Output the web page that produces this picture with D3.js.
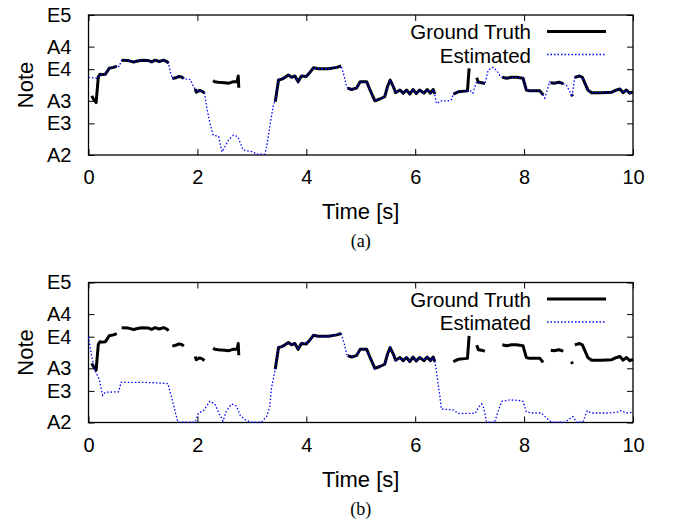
<!DOCTYPE html>
<html>
<head>
<meta charset="utf-8">
<script src="https://cdn.jsdelivr.net/npm/d3@7"></script>
<style>
  body { margin: 0; background: #fff; }
  text { font-family: "Liberation Sans", Arial, Helvetica, sans-serif; fill: #000; }
</style>
</head>
<body>
<script>
// note ticks (MIDI numbers) and their names
var noteTicks = [45, 52, 57, 64, 69, 76];
var noteNames = ["A2", "E3", "A3", "E4", "A4", "E5"];
var timeTicks = [0, 2, 4, 6, 8, 10];

// ground truth pitch [time s, MIDI note], null = unvoiced gap
var groundTruth = [
  [0.06,58.1],[0.10,57.2],[0.14,56.6],[0.18,62.3],[0.21,62.9],[0.26,62.8],[0.31,62.9],[0.36,63.8],[0.38,64.2],[0.46,64.4],[0.52,64.7],null,
  [0.61,66.0],[0.73,65.9],[0.83,65.6],[0.90,65.8],[0.98,66.0],[1.10,65.9],[1.16,65.6],[1.22,66.0],[1.30,65.7],[1.38,66.0],[1.44,65.7],[1.47,65.3],null,
  [1.54,61.9],[1.60,62.1],[1.66,62.4],[1.71,62.3],[1.75,61.9],null,
  [1.96,59.6],[1.98,58.9],[2.04,59.3],[2.09,59.1],[2.13,58.7],null,
  [2.29,61.5],[2.32,61.2],[2.38,61.1],[2.50,61.0],[2.58,60.9],[2.65,61.2],[2.73,61.3],[2.75,62.5],[2.76,59.9],null,
  [3.43,56.8],[3.49,61.6],[3.55,61.8],[3.61,62.2],[3.67,62.7],[3.73,62.2],[3.79,62.5],[3.85,61.2],[3.91,62.5],[4.00,62.4],[4.06,63.2],[4.13,64.3],[4.22,64.1],[4.41,64.1],[4.56,64.4],[4.64,64.7],null,
  [4.76,59.8],[4.83,59.5],[4.92,59.8],[4.99,61.2],[5.11,61.2],[5.17,59.4],[5.26,57.0],[5.35,57.4],[5.44,57.9],[5.49,60.1],[5.54,61.6],[5.60,60.1],[5.64,58.8],[5.72,59.4],[5.78,58.7],[5.84,59.4],[5.90,58.5],[5.96,59.5],[6.02,58.6],[6.08,59.4],[6.16,58.7],[6.22,59.5],[6.28,58.7],[6.33,59.5],[6.36,58.5],null,
  [6.70,58.5],[6.79,59.0],[6.96,59.2],[6.99,64.2],null,
  [7.13,62.1],[7.16,61.1],[7.22,61.0],[7.28,60.8],null,
  [7.60,62.2],[7.68,62.0],[7.77,62.2],[7.86,62.2],[7.98,62.0],[8.04,59.4],[8.10,59.2],[8.29,59.2],[8.35,58.3],null,
  [8.49,61.0],[8.55,60.9],[8.64,61.1],[8.72,60.8],null,
  [8.87,58.5],[8.89,58.0],null,
  [8.93,62.2],[9.02,62.5],[9.07,62.2],[9.17,59.4],[9.24,58.8],[9.42,58.8],[9.61,58.9],[9.70,59.4],[9.76,59.6],[9.82,58.8],[9.88,59.4],[9.94,58.7],[10.0,59.0]
];

// estimated pitch, panel (a)
var estimatedA = [
  [0,62.2],[0.08,62.1],[0.15,62.0],[0.18,62.3],[0.21,62.9],[0.26,62.8],[0.31,62.9],[0.36,63.8],[0.38,64.2],[0.46,64.4],[0.52,64.7],[0.56,64.6],
  [0.61,66.0],[0.73,65.9],[0.83,65.6],[0.90,65.8],[0.98,66.0],[1.10,65.9],[1.16,65.6],[1.22,66.0],[1.30,65.7],[1.38,66.0],[1.44,65.7],[1.47,65.3],[1.50,63.5],
  [1.54,61.9],[1.60,62.1],[1.66,62.4],[1.71,62.3],[1.75,61.9],[1.80,61.8],[1.87,61.7],[1.93,60.1],
  [1.96,59.6],[1.98,58.9],[2.04,59.3],[2.09,59.1],[2.13,58.7],[2.17,55.7],[2.23,52.0],[2.29,49.4],[2.39,49.1],[2.45,45.7],[2.57,48.3],[2.66,49.4],[2.74,49.1],[2.84,46.1],[3.02,45.7],[3.08,45.2],[3.24,45.2],[3.27,46.8],[3.33,51.3],[3.40,56.4],
  [3.43,56.8],[3.49,61.6],[3.55,61.8],[3.61,62.2],[3.67,62.7],[3.73,62.2],[3.79,62.5],[3.85,61.2],[3.91,62.5],[4.00,62.4],[4.06,63.2],[4.13,64.3],[4.22,64.1],[4.41,64.1],[4.56,64.4],[4.64,64.7],[4.70,62.3],[4.74,60.1],
  [4.76,59.8],[4.83,59.5],[4.92,59.8],[4.99,61.2],[5.11,61.2],[5.17,59.4],[5.26,57.0],[5.35,57.4],[5.44,57.9],[5.49,60.1],[5.54,61.6],[5.60,60.1],[5.64,58.8],[5.72,59.4],[5.78,58.7],[5.84,59.4],[5.90,58.5],[5.96,59.5],[6.02,58.6],[6.08,59.4],[6.16,58.7],[6.22,59.5],[6.28,58.7],[6.33,59.5],[6.36,58.5],
  [6.39,56.4],[6.48,57.0],[6.60,57.0],[6.66,57.1],[6.70,58.5],[6.79,59.0],[6.96,59.2],[7.00,59.4],[7.06,58.7],[7.12,61.0],[7.16,61.1],[7.22,61.0],[7.28,60.8],[7.34,63.8],[7.43,64.4],[7.49,63.8],[7.56,62.5],
  [7.60,62.2],[7.68,62.0],[7.77,62.2],[7.86,62.2],[7.98,62.0],[8.04,59.4],[8.10,59.2],[8.29,59.2],[8.35,58.3],[8.38,57.6],[8.47,61.2],
  [8.49,61.0],[8.55,60.9],[8.64,61.1],[8.72,60.8],[8.78,60.4],[8.84,59.0],[8.88,57.9],
  [8.93,62.2],[9.02,62.5],[9.07,62.2],[9.17,59.4],[9.24,58.8],[9.42,58.8],[9.61,58.9],[9.70,59.4],[9.76,59.6],[9.82,58.8],[9.88,59.4],[9.94,58.7],[10.0,59.0]
];

// estimated pitch, panel (b)
var estimatedB = [
  [0,64.0],[0.06,59.5],[0.12,56.5],[0.20,54.5],[0.26,51.0],[0.31,51.7],[0.55,51.8],[0.60,53.9],[1.00,53.9],[1.20,53.8],[1.35,53.7],[1.46,53.6],[1.53,50.4],[1.64,45.1],
  [1.96,45.1],[2.02,47.1],[2.11,47.6],[2.23,49.7],[2.32,49.1],[2.38,47.5],[2.47,45.3],[2.53,47.5],[2.63,49.1],[2.72,48.6],[2.78,46.7],[2.88,45.6],[2.97,45.1],[3.18,45.1],[3.27,46.3],[3.33,48.5],[3.36,52.6],
  [3.43,56.8],[3.49,61.6],[3.55,61.8],[3.61,62.2],[3.67,62.7],[3.73,62.2],[3.79,62.5],[3.85,61.2],[3.91,62.5],[4.00,62.4],[4.06,63.2],[4.13,64.3],[4.22,64.1],[4.41,64.1],[4.56,64.4],[4.64,64.7],[4.70,62.3],[4.74,60.1],
  [4.76,59.8],[4.83,59.5],[4.92,59.8],[4.99,61.2],[5.11,61.2],[5.17,59.4],[5.26,57.0],[5.35,57.4],[5.44,57.9],[5.49,60.1],[5.54,61.6],[5.60,60.1],[5.64,58.8],[5.72,59.4],[5.78,58.7],[5.84,59.4],[5.90,58.5],[5.96,59.5],[6.02,58.6],[6.08,59.4],[6.16,58.7],[6.22,59.5],[6.28,58.7],[6.33,59.5],[6.36,58.5],
  [6.39,56.3],[6.45,51.1],[6.48,48.0],[6.57,47.9],[6.70,47.8],[6.79,47.0],[7.10,47.0],[7.16,48.3],[7.22,49.1],[7.26,48.2],[7.31,45.1],[7.46,45.1],[7.52,47.4],[7.59,49.7],[7.74,50.0],[7.89,49.9],[7.98,49.7],
  [8.04,47.4],[8.14,47.1],[8.32,47.1],[8.41,46.0],[8.50,45.1],[8.75,45.1],[8.90,46.3],[8.96,45.1],[9.08,45.1],[9.16,47.6],[9.23,47.1],[9.54,47.1],[9.72,47.3],[9.78,47.6],[9.88,47.1],[10.0,47.3]
];

var W = 675, H = 525;
var left = 88.5, right = 633, plotH = 140;

var svg = d3.select("body").append("svg")
    .attr("width", W)
    .attr("height", H);

svg.append("rect").attr("width", W).attr("height", H).attr("fill", "#fff");

var x = d3.scaleLinear().domain([0, 10]).range([left, right]);
var y = d3.scaleLinear().domain([45, 76]).range([plotH, 0]);

var line = d3.line()
    .defined(d => d !== null)
    .x(d => x(d[0]))
    .y(d => y(d[1]));

function drawPanel(top, estimated, caption) {
    var g = svg.append("g").attr("transform", "translate(0," + top + ")");

    // bottom axis, ticks pointing inward
    g.append("g")
        .attr("transform", "translate(0," + plotH + ")")
        .call(d3.axisBottom(x).tickValues(timeTicks).tickSizeInner(-6).tickSizeOuter(0).tickPadding(15))
        .call(a => a.select(".domain").remove())
        .selectAll("text")
        .style("font-size", "20px");

    // top mirror ticks
    g.append("g")
        .call(d3.axisTop(x).tickValues(timeTicks).tickSizeInner(-6).tickSizeOuter(0).tickFormat(""))
        .call(a => a.select(".domain").remove());

    // left axis
    g.append("g")
        .attr("transform", "translate(" + left + ",0)")
        .call(d3.axisLeft(y).tickValues(noteTicks).tickSizeInner(-6).tickSizeOuter(0).tickPadding(17)
            .tickFormat((d, i) => noteNames[i]))
        .call(a => a.select(".domain").remove())
        .selectAll("text")
        .style("font-size", "20px");

    // right mirror ticks
    g.append("g")
        .attr("transform", "translate(" + right + ",0)")
        .call(d3.axisRight(y).tickValues(noteTicks).tickSizeInner(-6).tickSizeOuter(0).tickFormat(""))
        .call(a => a.select(".domain").remove());

    g.selectAll(".tick line").attr("stroke", "#000");

    // frame
    g.append("rect")
        .attr("x", left).attr("y", 0)
        .attr("width", right - left).attr("height", plotH)
        .attr("fill", "none").attr("stroke", "#000").attr("stroke-width", 1.3);

    // ground truth
    g.append("path")
        .datum(groundTruth)
        .attr("d", line)
        .attr("fill", "none")
        .attr("stroke", "#000")
        .attr("stroke-width", 3)
        .attr("stroke-linejoin", "round");

    // estimated
    g.append("path")
        .datum(estimated)
        .attr("d", line)
        .attr("fill", "none")
        .attr("stroke", "#0000ff")
        .attr("stroke-width", 1.3)
        .attr("stroke-dasharray", "1.5,2");

    // legend
    var lg = g.append("g");
    lg.append("text").attr("x", 531).attr("y", 24).attr("text-anchor", "end")
        .style("font-size", "20.5px").text("Ground Truth");
    lg.append("line").attr("x1", 547).attr("x2", 606).attr("y1", 16.5).attr("y2", 16.5)
        .attr("stroke", "#000").attr("stroke-width", 3);
    lg.append("text").attr("x", 531).attr("y", 47.5).attr("text-anchor", "end")
        .style("font-size", "20.5px").text("Estimated");
    lg.append("line").attr("x1", 547).attr("x2", 606).attr("y1", 39.5).attr("y2", 39.5)
        .attr("stroke", "#0000ff").attr("stroke-width", 1.3).attr("stroke-dasharray", "1.5,2");

    // axis titles
    g.append("text")
        .attr("transform", "translate(33," + (plotH / 2) + ") rotate(-90)")
        .attr("text-anchor", "middle")
        .style("font-size", "22px")
        .text("Note");

    g.append("text")
        .attr("x", (left + right) / 2).attr("y", 204)
        .attr("text-anchor", "middle")
        .style("font-size", "22px")
        .text("Time [s]");

    g.append("text")
        .attr("x", (left + right) / 2).attr("y", 232)
        .attr("text-anchor", "middle")
        .style("font-family", "'Liberation Serif', 'Times New Roman', serif")
        .style("font-size", "18px")
        .text(caption);
}

drawPanel(15, estimatedA, "(a)");
drawPanel(282.5, estimatedB, "(b)");
</script>
</body>
</html>
